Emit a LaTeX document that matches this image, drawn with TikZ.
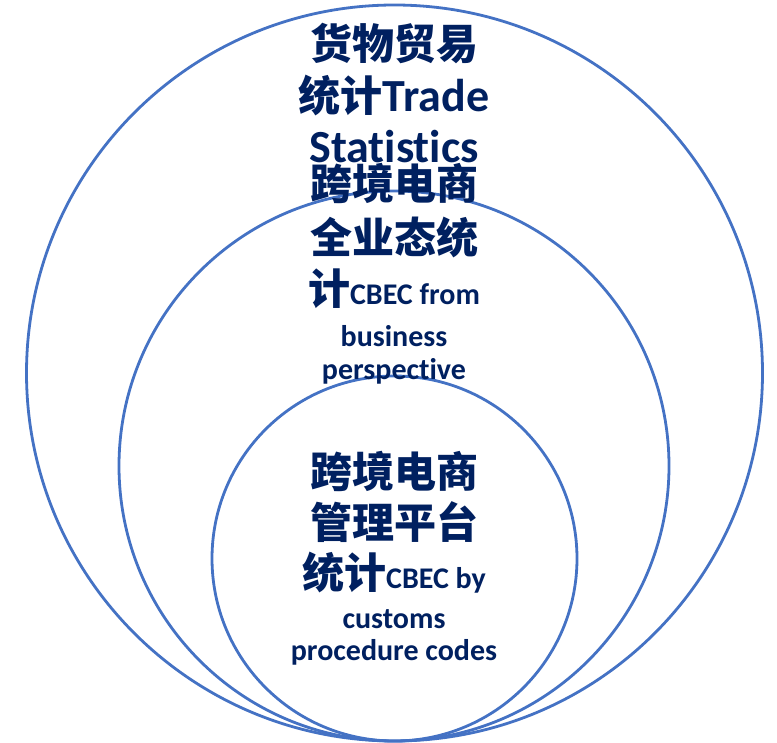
\documentclass[tikz,border=0pt]{standalone}
\usepackage{fontspec}
\setmainfont{Carlito}[Ligatures=NoCommon]
\newfontfamily\cjk{Noto Sans CJK SC}
\newcommand{\zh}[1]{{\cjk #1}}
\newcommand{\sml}{\fontsize{30}{30}\selectfont}
\newcommand{\lrg}{\fontsize{46}{46}\selectfont}
\definecolor{ringblue}{HTML}{4472C4}
\definecolor{ink}{HTML}{002060}
\tikzset{
 ring/.style={draw=ringblue, line width=2.8pt},
 txt/.style={anchor=base, inner sep=0pt, text=ink, font=\bfseries\fontsize{42}{42}\selectfont},
 lat/.style={font=\bfseries\sml}
}
\begin{document}
\begin{tikzpicture}[x=1pt,y=-1pt]
 \useasboundingbox (0,0) rectangle (777,743);

 \draw[ring] (394.5,373) circle[radius=368pt];
 \draw[ring] (394,466) circle[radius=275pt];
 \draw[ring] (394.5,558.5) circle[radius=182.5pt];

 \node[txt] (trA) at (394,60) {\zh{货物贸易}};
 \node[txt] (trB) at (394,112) {\zh{统计}{\lrg Trade}};
 \node[txt] (trC) at (394,163) {\lrg Statistics};

 \node[txt] (biA) at (394,200) {\zh{跨境电商}};
 \node[txt] (biB) at (394,254) {\zh{全业态统}};
 \node[txt] (biC) at (394,305) {\zh{计}{\sml CBEC from}};
 \node[txt,lat] (biD) at (394,347) {business};
 \node[txt,lat] (biE) at (394,380) {perspective};

 \node[txt] (pcA) at (394,487) {\zh{跨境电商}};
 \node[txt] (pcB) at (394,538) {\zh{管理平台}};
 \node[txt] (pcC) at (394,588) {\zh{统计}{\sml CBEC by}};
 \node[txt,lat] (pcD) at (394,628) {customs};
 \node[txt,lat] (pcE) at (394,660) {procedure codes};

\end{tikzpicture}
\end{document}
